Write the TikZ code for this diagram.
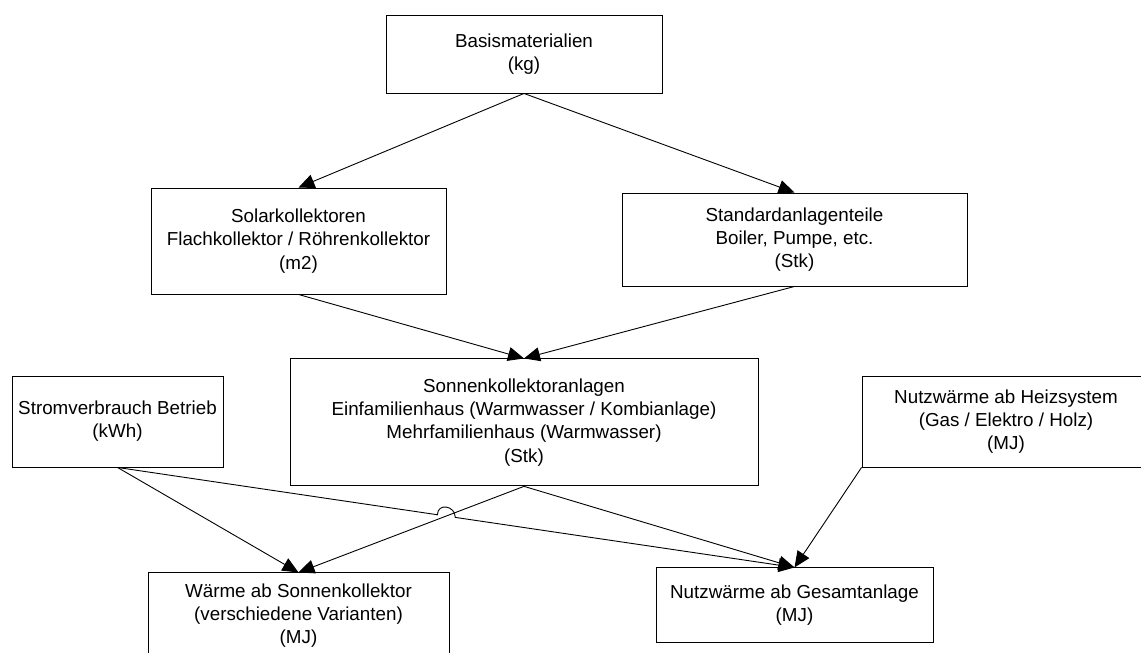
\documentclass[tikz,border=0pt]{standalone}
\usepackage{fontspec}
\setmainfont{Liberation Sans}
\usetikzlibrary{arrows.meta,positioning,calc}
\tikzset{
  box/.style ={draw,line width=0.9pt,align=center,inner sep=0pt,
               font=\fontsize{18.8}{23.2}\selectfont},
  ar/.style  ={line width=0.9pt,-{Triangle[length=16pt,width=14pt]}},
}

\begin{document}
\begin{tikzpicture}[x=1pt,y=1pt]
\path[use as bounding box] (0,0) rectangle (1141,-653);
\node[box,minimum width=276pt,minimum height=78pt] (basis) at (524,-54) {Basismaterialien\\(kg)};
\node[box,minimum width=295pt,minimum height=106pt] (solar) at (298.5,-241) {Solarkollektoren\\Flachkollektor / Röhrenkollektor\\(m2)};
\node[box,minimum width=345pt,minimum height=93pt] (std) at (794.5,-239.5) {Standardanlagenteile\\Boiler, Pumpe, etc.\\(Stk)};
\node[box,minimum width=468pt,minimum height=127pt,below=265pt of basis] (anlage) {Sonnenkollektoranlagen\\Einfamilienhaus (Warmwasser / Kombianlage)\\Mehrfamilienhaus (Warmwasser)\\(Stk)};
\node[box,minimum width=211pt,minimum height=91pt] (strom) at (117.5,-421.5) {Stromverbrauch Betrieb\\(kWh)};
\node[box,minimum width=288pt,minimum height=91pt] (heiz) at (1006,-421.5) {Nutzwärme ab Heizsystem\\(Gas / Elektro / Holz)\\(MJ)};
\node[box,minimum width=301pt,minimum height=86pt,below=278pt of solar] (waerme) {Wärme ab Sonnenkollektor\\(verschiedene Varianten)\\(MJ)};
\node[box,minimum width=277pt,minimum height=75pt,below=281pt of std] (gesamt) {Nutzwärme ab Gesamtanlage\\(MJ)};
\draw[ar] (basis.south)--(solar.north); \draw[ar] (basis.south)--(std.north);
\draw[ar] (solar.south)--(anlage.north); \draw[ar] (std.south)--(anlage.north);
\draw[ar] (strom.south)--(waerme.north); \draw[ar] (anlage.south)--(waerme.north);
\draw[ar] (anlage.south)--(gesamt.north); \draw[ar] (heiz.south west)--(gesamt.north);
% line hop where the two connectors cross
\coordinate (X) at (intersection of strom.south--gesamt.north and anlage.south--waerme.north);
\coordinate (hopA) at ($(X)!9pt!(strom.south)$);
\coordinate (hopB) at ($(X)!9pt!(gesamt.north)$);
\draw[ar] (strom.south)--(hopA) .. controls +(0,12) and +(0,12) .. (hopB)--(gesamt.north);
\end{tikzpicture}
\end{document}
